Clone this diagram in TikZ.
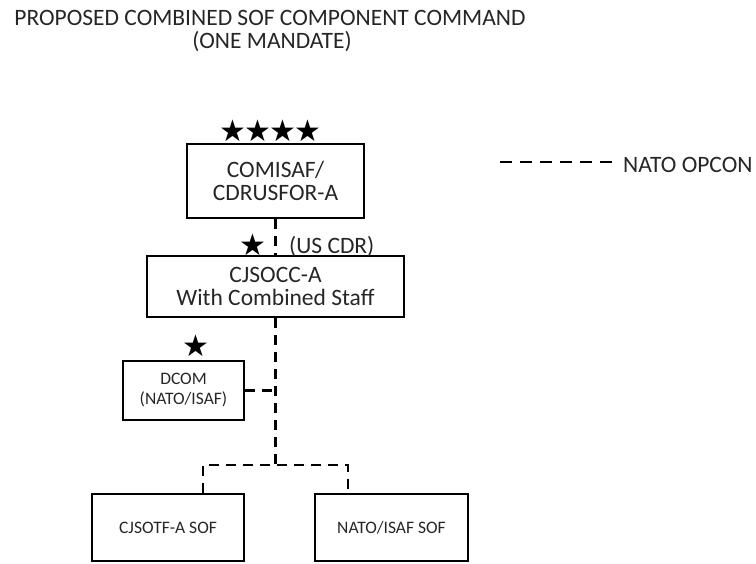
\documentclass[tikz,border=0pt]{standalone}
\usepackage{fontspec}
\setmainfont{Carlito}
\newfontfamily\starfont{DejaVu Sans}

\begin{document}
\begin{tikzpicture}[x=1pt, y=-1pt,
    every node/.style={text=black!85},
    unit/.style={draw=black, line width=2.4pt, inner sep=0pt, align=center},
    bigunit/.style={unit, font=\fontsize{23.5}{23.5}\selectfont},
    smallunit/.style={unit, font=\fontsize{17.5}{20}\selectfont},
    plaintext/.style={inner sep=0pt, font=\fontsize{23.5}{23.5}\selectfont},
    rank/.style={inner sep=0pt, text=black, font=\starfont\fontsize{30}{30}\selectfont},
    opcon/.style={line width=2.6pt, dash pattern=on 10pt off 7pt}]
    \useasboundingbox (0,0) rectangle (756,563);

    % title
    \node[plaintext, anchor=base] (title) at (270,25) {PROPOSED COMBINED SOF COMPONENT COMMAND};
    \node[plaintext, anchor=base] (mandate) at (272,48) {(ONE MANDATE)};

    % command chain
    \node[bigunit, minimum width=177pt, minimum height=74pt] (comisaf) at (275.5,181) {COMISAF/\\CDRUSFOR-A};
    \node[rank] (comisafrank) at (270.5,131) {★\kern-2pt★\kern-2pt★\kern-2pt★};
    \node[bigunit, minimum width=257pt, minimum height=61pt] (cjsocc) at (275.5,286.5) {CJSOCC-A\\With Combined Staff};
    \node[rank] (cjsoccrank) at (252.5,245) {★};
    \node[plaintext, anchor=base west] (uscdr) at (289,253) {(US CDR)};
    \node[smallunit, minimum width=121pt, minimum height=59pt] (dcom) at (183.5,390.5) {DCOM\\(NATO/ISAF)};
    \node[rank] (dcomrank) at (195.5,346) {★};

    % components
    \node[smallunit, minimum width=152pt, minimum height=67pt] (cjsotf) at (168,527.5) {CJSOTF-A SOF};
    \node[smallunit, minimum width=153pt, minimum height=67pt] (natosof) at (391.5,527.5) {NATO/ISAF SOF};

    % key
    \node[plaintext, anchor=base west] (key) at (623,172) {NATO OPCON};
    \coordinate (keystart) at (500,162);

    \coordinate (split) at (275.5,465);
    \draw[opcon] (comisaf.south) -- (cjsocc.north);
    \draw[opcon] (cjsocc.south) -- (split);
    \draw[opcon] (dcom.east) -- (dcom.east -| split);
    \draw[opcon] ([xshift=35pt]cjsotf.north) |- (split) -| ([xshift=-43.5pt]natosof.north);
    \draw[opcon, dash pattern=on 12pt off 8pt] (keystart) -- ([xshift=-11pt]keystart -| key.west);
\end{tikzpicture}
\end{document}
